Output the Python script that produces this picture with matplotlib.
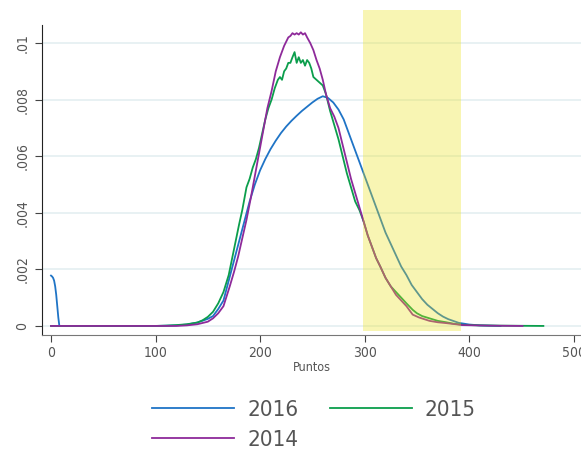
"""Distribucion de puntajes 2014-2016 (densidades kernel) con banda resaltada."""

import matplotlib

matplotlib.use("Agg")
import matplotlib.pyplot as plt
from matplotlib.ticker import FixedLocator

plt.rcParams["font.family"] = ["DejaVu Sans"]
plt.rcParams["font.stretch"] = "condensed"

# --- data ------------------------------------------------------------------
x_2016 = [0, 1, 2, 3, 4, 5, 6, 7, 8, 50, 100, 120, 130, 140, 150, 155, 160, 165,
          170, 175, 180, 185, 190, 195, 200, 205, 210, 215, 220, 225, 230, 235,
          240, 245, 250, 255, 260, 265, 270, 275, 280, 285, 290, 295, 300, 305,
          310, 315, 320, 325, 330, 335, 340, 345, 350, 355, 360, 365, 370, 375,
          380, 390, 400, 410, 430]
y_2016 = [0.00178, 0.00175, 0.0017, 0.0016, 0.0014, 0.0011, 0.0007, 0.0003, 0.0,
          0.0, 0.0, 0.00002, 0.00005, 0.00012, 0.00025, 0.00035, 0.0006, 0.0009,
          0.0016, 0.0023, 0.0030, 0.0037, 0.0044, 0.0050, 0.0055, 0.0059, 0.00625,
          0.00655, 0.00682, 0.00705, 0.00725, 0.00743, 0.0076, 0.00775, 0.0079,
          0.00803, 0.00812, 0.00806, 0.0079, 0.00765, 0.0073, 0.0068, 0.0063,
          0.0058, 0.0053, 0.0048, 0.0043, 0.0038, 0.0033, 0.0029, 0.0025, 0.0021,
          0.0018, 0.00145, 0.0012, 0.00095, 0.00075, 0.0006, 0.00045, 0.00033,
          0.00024, 0.00011, 0.00005, 0.00002, 0.0]

x_2015 = [0, 100, 110, 120, 130, 140, 145, 150, 155, 160, 165, 170, 175, 180, 183,
          187, 190, 193, 196, 199, 202, 205, 208, 211, 214, 217, 219, 221, 223,
          225, 227, 229, 231, 233, 235, 237, 239, 241, 243, 245, 247, 249, 251,
          254, 257, 260, 263, 267, 271, 275, 279, 283, 287, 291, 295, 299, 303,
          307, 311, 315, 320, 325, 330, 335, 340, 346, 350, 355, 362, 370, 378,
          385, 394, 410, 430, 471]
y_2015 = [0.0, 0.0, 0.00001, 0.00003, 0.00006, 0.00012, 0.0002, 0.00032, 0.0005,
          0.0008, 0.0012, 0.0018, 0.0027, 0.0036, 0.0041, 0.0049, 0.0052, 0.0056,
          0.0059, 0.0063, 0.0068, 0.0073, 0.0077, 0.0080, 0.0084, 0.0087, 0.0088,
          0.0087, 0.0090, 0.0091, 0.0093, 0.0093, 0.0095, 0.00968, 0.0093, 0.0095,
          0.0093, 0.0094, 0.0092, 0.0094, 0.0093, 0.0091, 0.0088, 0.0087, 0.0086,
          0.0085, 0.0082, 0.0076, 0.0071, 0.0066, 0.0060, 0.0054, 0.0049, 0.0044,
          0.0041, 0.0037, 0.0032, 0.0028, 0.0024, 0.0021, 0.0017, 0.0014, 0.0012,
          0.0010, 0.0008, 0.00057, 0.00045, 0.00035, 0.00027, 0.00018, 0.00013,
          0.00008, 0.00004, 0.00002, 0.00001, 0.0]

x_2014 = [0, 120, 130, 140, 150, 155, 160, 165, 171, 175, 179, 183, 187, 191, 195,
          199, 203, 207, 211, 215, 219, 223, 227, 229, 231, 233, 235, 237, 239,
          241, 243, 245, 248, 251, 254, 257, 260, 263, 267, 271, 275, 279, 283,
          287, 291, 295, 299, 303, 307, 311, 315, 320, 325, 330, 335, 340, 346,
          352, 362, 370, 378, 394, 420, 451]
y_2014 = [0.0, 0.0, 0.00002, 0.00006, 0.00015, 0.00027, 0.00045, 0.0007, 0.0014,
          0.0019, 0.00245, 0.0031, 0.00375, 0.0045, 0.0053, 0.0061, 0.0069, 0.0077,
          0.0083, 0.0090, 0.0095, 0.0099, 0.0102, 0.01025, 0.01035, 0.0103,
          0.01035, 0.0103, 0.01038, 0.0103, 0.01035, 0.0102, 0.0100, 0.00975,
          0.0094, 0.0091, 0.0087, 0.0082, 0.0077, 0.0074, 0.0070, 0.0064, 0.0058,
          0.0052, 0.0047, 0.0042, 0.0037, 0.0032, 0.0028, 0.0024, 0.0021, 0.0017,
          0.0014, 0.0011, 0.0009, 0.0007, 0.0004, 0.0003, 0.00018, 0.00013, 0.0001,
          0.00003, 0.00001, 0.0]

band = [298, 392]
x_ticks = [0, 100, 200, 300, 400, 500]
y_ticks = [0, 0.002, 0.004, 0.006, 0.008, 0.01]
y_tick_labels = ["0", ".002", ".004", ".006", ".008", ".01"]

TEXT = "#555555"

fig = plt.figure(figsize=(5.81, 4.53), dpi=100)
ax = fig.add_axes([0.0723, 0.2605, 0.9277, 0.7175])

l16, = ax.plot(x_2016, y_2016, color="#1f74c6", lw=1.3, label="2016", zorder=3)
l15, = ax.plot(x_2015, y_2015, color="#0b9e4c", lw=1.3, label="2015", zorder=3)
l14, = ax.plot(x_2014, y_2014, color="#8e2a9a", lw=1.3, label="2014", zorder=3)

# highlighted band drawn over the curves
ax.fill_between(band, -0.000177, 0.0112, color="#ece213", alpha=0.32,
                lw=0, zorder=4)

ax.set_xlim(-8.6, 507)
ax.set_ylim(-0.00032, 0.01117)

ax.xaxis.set_major_locator(FixedLocator(x_ticks))
ax.set_yticks(y_ticks)
ax.set_yticklabels(y_tick_labels, rotation=90, va="center")
ax.grid(axis="y", color="#e6f0f2", lw=1.3, zorder=0)
ax.tick_params(axis="both", direction="out", length=5, colors="#444444",
               labelcolor=TEXT, labelsize=10)
ax.tick_params(axis="x", pad=3)
ax.tick_params(axis="y", pad=4)

for side in ("top", "right"):
    ax.spines[side].set_visible(False)
ax.spines["left"].set_bounds(-0.00032, 0.01064)
ax.spines["left"].set_color("#222222")
ax.spines["bottom"].set_color("#777777")

ax.set_xlabel("Puntos", color=TEXT, fontsize=9, labelpad=1)

# column-major fill: 2016 / 2014 in the first column, 2015 in the second
fig.legend([l16, l14, l15], ["2016", "2014", "2015"], loc="upper left",
           bbox_to_anchor=(0.262, 0.118), ncol=2, frameon=False, fontsize=16,
           labelcolor=TEXT, handlelength=3.7, columnspacing=1.4,
           handletextpad=0.58, labelspacing=0.45, borderaxespad=0, borderpad=0)

fig.savefig("out.png", dpi=100)
